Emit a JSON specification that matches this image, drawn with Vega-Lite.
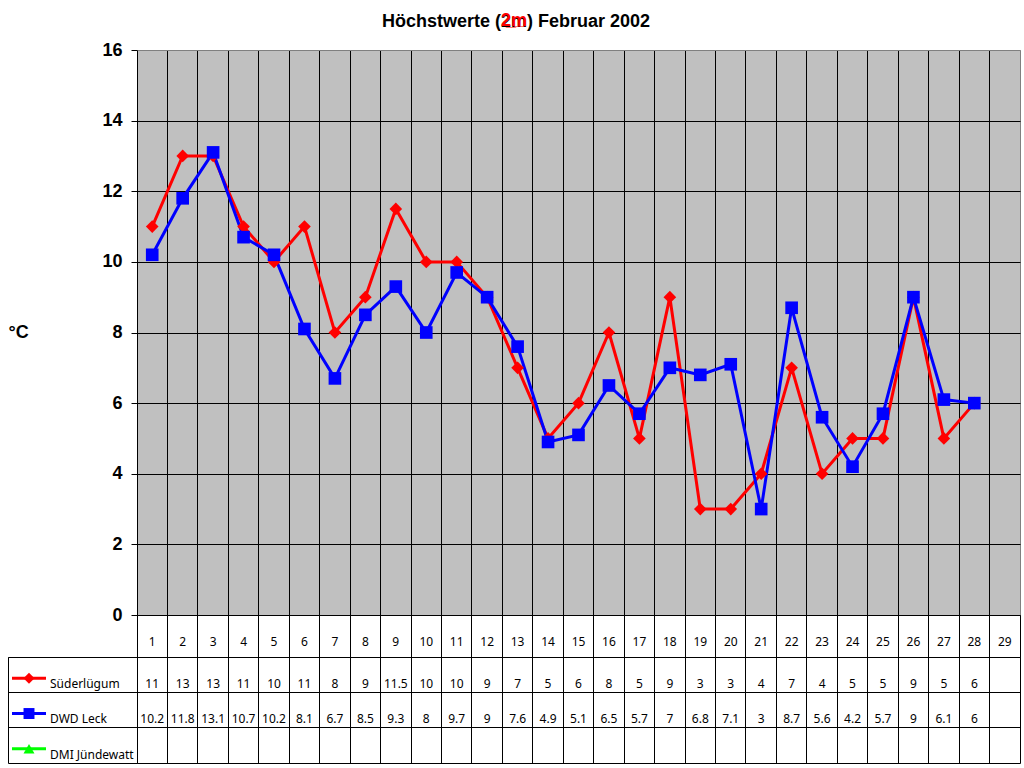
{
  "$schema": "https://vega.github.io/schema/vega-lite/v6.json",
  "padding": {"left": 7, "top": 11, "right": 5, "bottom": 5},
  "autosize": {"type": "pad"},
  "background": "white",
  "config": {
    "font": "Noto Sans",
    "view": {"stroke": null},
    "axis": {"gridOpacity": 1},
    "concat": {"spacing": 0}
  },
  "title": {
    "text": "2̲m̲",
    "font": "Liberation Sans",
    "fontSize": 18,
    "fontWeight": "bold",
    "color": "#ff0000",
    "anchor": "start",
    "frame": "group",
    "baseline": "alphabetic",
    "offset": -31,
    "dx": 493
  },
  "datasets": {
    "temps": [
      {"day": 1, "station": "Süderlügum", "value": 11},
      {"day": 2, "station": "Süderlügum", "value": 13},
      {"day": 3, "station": "Süderlügum", "value": 13},
      {"day": 4, "station": "Süderlügum", "value": 11},
      {"day": 5, "station": "Süderlügum", "value": 10},
      {"day": 6, "station": "Süderlügum", "value": 11},
      {"day": 7, "station": "Süderlügum", "value": 8},
      {"day": 8, "station": "Süderlügum", "value": 9},
      {"day": 9, "station": "Süderlügum", "value": 11.5},
      {"day": 10, "station": "Süderlügum", "value": 10},
      {"day": 11, "station": "Süderlügum", "value": 10},
      {"day": 12, "station": "Süderlügum", "value": 9},
      {"day": 13, "station": "Süderlügum", "value": 7},
      {"day": 14, "station": "Süderlügum", "value": 5},
      {"day": 15, "station": "Süderlügum", "value": 6},
      {"day": 16, "station": "Süderlügum", "value": 8},
      {"day": 17, "station": "Süderlügum", "value": 5},
      {"day": 18, "station": "Süderlügum", "value": 9},
      {"day": 19, "station": "Süderlügum", "value": 3},
      {"day": 20, "station": "Süderlügum", "value": 3},
      {"day": 21, "station": "Süderlügum", "value": 4},
      {"day": 22, "station": "Süderlügum", "value": 7},
      {"day": 23, "station": "Süderlügum", "value": 4},
      {"day": 24, "station": "Süderlügum", "value": 5},
      {"day": 25, "station": "Süderlügum", "value": 5},
      {"day": 26, "station": "Süderlügum", "value": 9},
      {"day": 27, "station": "Süderlügum", "value": 5},
      {"day": 28, "station": "Süderlügum", "value": 6},
      {"day": 1, "station": "DWD Leck", "value": 10.2},
      {"day": 2, "station": "DWD Leck", "value": 11.8},
      {"day": 3, "station": "DWD Leck", "value": 13.1},
      {"day": 4, "station": "DWD Leck", "value": 10.7},
      {"day": 5, "station": "DWD Leck", "value": 10.2},
      {"day": 6, "station": "DWD Leck", "value": 8.1},
      {"day": 7, "station": "DWD Leck", "value": 6.7},
      {"day": 8, "station": "DWD Leck", "value": 8.5},
      {"day": 9, "station": "DWD Leck", "value": 9.3},
      {"day": 10, "station": "DWD Leck", "value": 8},
      {"day": 11, "station": "DWD Leck", "value": 9.7},
      {"day": 12, "station": "DWD Leck", "value": 9},
      {"day": 13, "station": "DWD Leck", "value": 7.6},
      {"day": 14, "station": "DWD Leck", "value": 4.9},
      {"day": 15, "station": "DWD Leck", "value": 5.1},
      {"day": 16, "station": "DWD Leck", "value": 6.5},
      {"day": 17, "station": "DWD Leck", "value": 5.7},
      {"day": 18, "station": "DWD Leck", "value": 7},
      {"day": 19, "station": "DWD Leck", "value": 6.8},
      {"day": 20, "station": "DWD Leck", "value": 7.1},
      {"day": 21, "station": "DWD Leck", "value": 3},
      {"day": 22, "station": "DWD Leck", "value": 8.7},
      {"day": 23, "station": "DWD Leck", "value": 5.6},
      {"day": 24, "station": "DWD Leck", "value": 4.2},
      {"day": 25, "station": "DWD Leck", "value": 5.7},
      {"day": 26, "station": "DWD Leck", "value": 9},
      {"day": 27, "station": "DWD Leck", "value": 6.1},
      {"day": 28, "station": "DWD Leck", "value": 6}
    ],
    "days": [
      {"day": 1}, {"day": 2}, {"day": 3}, {"day": 4}, {"day": 5}, {"day": 6},
      {"day": 7}, {"day": 8}, {"day": 9}, {"day": 10}, {"day": 11}, {"day": 12},
      {"day": 13}, {"day": 14}, {"day": 15}, {"day": 16}, {"day": 17}, {"day": 18},
      {"day": 19}, {"day": 20}, {"day": 21}, {"day": 22}, {"day": 23}, {"day": 24},
      {"day": 25}, {"day": 26}, {"day": 27}, {"day": 28}, {"day": 29}
    ],
    "stations": [
      {"station": "Süderlügum"},
      {"station": "DWD Leck"},
      {"station": "DMI Jündewatt"}
    ]
  },
  "bounds": "flush",
  "spacing": 0,
  "align": "each",
  "columns": 2,
  "concat": [
    {
      "width": 129,
      "height": 565,
      "data": {"values": []},
      "mark": {"type": "text"},
      "encoding": {}
    },
    {
      "width": 883,
      "height": 565,
      "view": {"fill": "#c0c0c0", "stroke": "#808080"},
      "title": {
        "text": "Höchstwerte (2m) Februar 2002",
        "font": "Liberation Sans",
        "fontSize": 18,
        "fontWeight": "bold",
        "color": "black",
        "anchor": "start",
        "frame": "group",
        "baseline": "alphabetic",
        "offset": -4,
        "dx": 245
      },
      "data": {"name": "temps"},
      "encoding": {
        "x": {
          "field": "day",
          "type": "ordinal",
          "bandPosition": 0.5,
          "scale": {"type": "band", "domain": [1,2,3,4,5,6,7,8,9,10,11,12,13,14,15,16,17,18,19,20,21,22,23,24,25,26,27,28,29], "paddingInner": 0, "paddingOuter": 0},
          "axis": {"title": null, "labels": false, "ticks": false, "domain": false, "grid": true, "gridColor": "black", "bandPosition": 0}
        },
        "y": {
          "field": "value",
          "type": "quantitative",
          "scale": {"domain": [0, 16], "nice": false},
          "axis": {
            "values": [0, 2, 4, 6, 8, 10, 12, 14, 16],
            "grid": true,
            "gridColor": {"condition": {"test": "datum.value == 16", "value": "#808080"}, "value": "black"},
            "domain": false,
            "tickSize": 6,
            "tickColor": "black",
            "labelFont": "Liberation Sans",
            "labelFontSize": 18,
            "labelFontWeight": "bold",
            "labelColor": "black",
            "labelPadding": 9,
            "title": "°C",
            "titleFont": "Liberation Sans",
            "titleFontSize": 18,
            "titleFontWeight": "bold",
            "titleColor": "black",
            "titleAngle": 0,
            "titleAlign": "left",
            "titleBaseline": "middle",
            "titleX": -129,
            "titleY": 282
          }
        },
        "color": {
          "field": "station",
          "type": "nominal",
          "scale": {"domain": ["Süderlügum", "DWD Leck", "DMI Jündewatt"], "range": ["#ff0000", "#0000ff", "#00ff00"]},
          "legend": null
        }
      },
      "layer": [
        {"mark": {"type": "line", "strokeWidth": 3}},
        {
          "mark": {"type": "point", "filled": true, "opacity": 1, "size": 160},
          "encoding": {
            "shape": {
              "field": "station",
              "type": "nominal",
              "scale": {"domain": ["Süderlügum", "DWD Leck", "DMI Jündewatt"], "range": ["diamond", "square", "triangle-up"]},
              "legend": null
            }
          }
        }
      ]
    },
    {
      "width": 129,
      "height": 42,
      "data": {"values": []},
      "mark": {"type": "text"},
      "encoding": {}
    },
    {
      "width": 883,
      "height": 42,
      "view": {"stroke": "black"},
      "data": {"name": "days"},
      "mark": {"type": "text", "fontSize": 12, "font": "Noto Sans", "baseline": "middle", "dy": 6, "color": "black"},
      "encoding": {
        "x": {
          "field": "day",
          "type": "ordinal",
          "bandPosition": 0.5,
          "scale": {"type": "band", "domain": [1,2,3,4,5,6,7,8,9,10,11,12,13,14,15,16,17,18,19,20,21,22,23,24,25,26,27,28,29], "paddingInner": 0, "paddingOuter": 0},
          "axis": {"title": null, "labels": false, "ticks": false, "domain": false, "grid": true, "gridColor": "black", "bandPosition": 0}
        },
        "text": {"field": "day", "type": "nominal"}
      }
    },
    {
      "width": 129,
      "height": 106,
      "view": {"stroke": "black"},
      "data": {"name": "stations"},
      "encoding": {
        "y": {
          "field": "station",
          "type": "nominal",
          "bandPosition": 0.6,
          "scale": {"type": "band", "domain": ["Süderlügum", "DWD Leck", "DMI Jündewatt"], "paddingInner": 0, "paddingOuter": 0},
          "axis": {"title": null, "labels": false, "ticks": false, "domain": false, "grid": true, "gridColor": "black", "bandPosition": 0}
        },
        "color": {
          "field": "station",
          "type": "nominal",
          "scale": {"domain": ["Süderlügum", "DWD Leck", "DMI Jündewatt"], "range": ["#ff0000", "#0000ff", "#00ff00"]},
          "legend": null
        }
      },
      "layer": [
        {
          "mark": {"type": "rule", "strokeWidth": 3},
          "encoding": {
            "x": {"datum": 4, "type": "quantitative", "scale": {"domain": [0, 129], "nice": false, "zero": false}, "axis": null},
            "x2": {"datum": 38}
          }
        },
        {
          "mark": {"type": "point", "filled": true, "opacity": 1, "size": 120},
          "encoding": {
            "x": {"datum": 21, "type": "quantitative"},
            "shape": {
              "field": "station",
              "type": "nominal",
              "scale": {"domain": ["Süderlügum", "DWD Leck", "DMI Jündewatt"], "range": ["diamond", "square", "triangle-up"]},
              "legend": null
            }
          }
        },
        {
          "mark": {"type": "text", "align": "left", "baseline": "middle", "fontSize": 12, "font": "Noto Sans"},
          "encoding": {
            "x": {"datum": 42, "type": "quantitative"},
            "y": {"field": "station", "type": "nominal", "bandPosition": 0.76},
            "text": {"field": "station", "type": "nominal"},
            "color": {"value": "black"}
          }
        }
      ]
    },
    {
      "width": 883,
      "height": 106,
      "view": {"stroke": "black"},
      "data": {"name": "temps"},
      "mark": {"type": "text", "fontSize": 12, "font": "Noto Sans", "baseline": "middle", "color": "black"},
      "encoding": {
        "x": {
          "field": "day",
          "type": "ordinal",
          "bandPosition": 0.5,
          "scale": {"type": "band", "domain": [1,2,3,4,5,6,7,8,9,10,11,12,13,14,15,16,17,18,19,20,21,22,23,24,25,26,27,28,29], "paddingInner": 0, "paddingOuter": 0},
          "axis": {"title": null, "labels": false, "ticks": false, "domain": false, "grid": true, "gridColor": "black", "bandPosition": 0}
        },
        "y": {
          "field": "station",
          "type": "nominal",
          "bandPosition": 0.76,
          "scale": {"type": "band", "domain": ["Süderlügum", "DWD Leck", "DMI Jündewatt"], "paddingInner": 0, "paddingOuter": 0},
          "axis": {"title": null, "labels": false, "ticks": false, "domain": false, "grid": true, "gridColor": "black", "bandPosition": 0}
        },
        "text": {"field": "value", "type": "nominal"}
      }
    }
  ]
}
